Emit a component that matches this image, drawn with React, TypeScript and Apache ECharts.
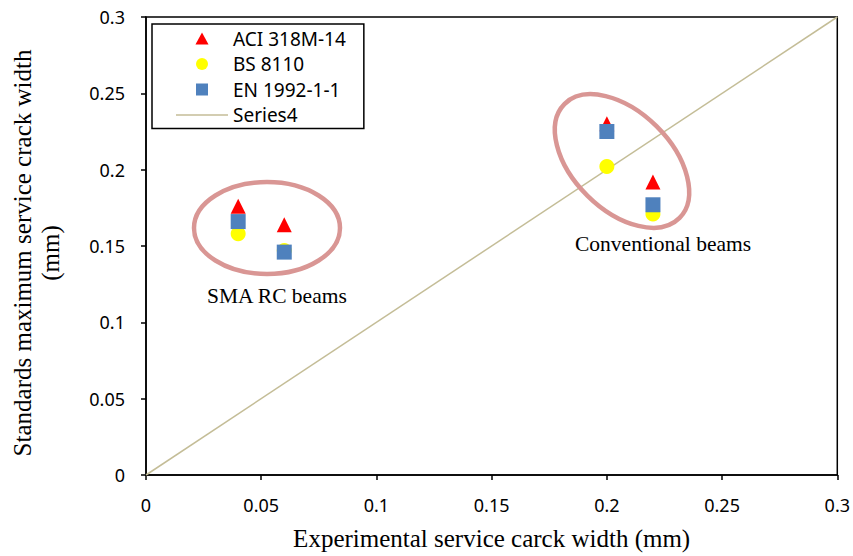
import React, { useEffect, useRef } from "react";
import * as echarts from "echarts";

const experimental = [0.04, 0.06, 0.2, 0.22];
const aciValues = [0.176, 0.164, 0.23, 0.192];
const bsValues = [0.158, 0.147, 0.202, 0.171];
const enValues = [0.166, 0.146, 0.225, 0.177];
const lineX = [0, 0.3];
const lineY = [0, 0.3];
const seriesNames = ["ACI 318M-14", "BS 8110", "EN 1992-1-1", "Series4"];
const annotations = ["SMA RC beams", "Conventional beams"];

const pairs = (xs: number[], ys: number[]) => xs.map((x, i) => [x, ys[i]]);

const legendIcons = [
  "path://M6,0L12,11L0,11Z",
  "path://M6,0A6,6,0,1,1,6,12A6,6,0,1,1,6,0Z",
  "path://M0,0H12V12H0Z",
  "path://M0,0H52V1.5H0Z",
];

export default function App() {
  const ref = useRef<HTMLDivElement>(null);
  useEffect(() => {
    if (!ref.current) return;
    const chart = echarts.init(ref.current, null, { renderer: "svg" });
    const tickFont = { fontFamily: "Noto Sans", fontSize: 18, color: "#000" };
    const serif = "Liberation Serif";
    chart.setOption({
      animation: false,
      backgroundColor: "#fff",
      grid: {
        left: 145,
        right: 15,
        top: 17,
        bottom: 79,
        show: true,
        borderColor: "#000",
        borderWidth: 1.5,
        backgroundColor: "transparent",
      },
      xAxis: {
        type: "value",
        min: 0,
        max: 0.3,
        interval: 0.05,
        splitLine: { show: false },
        axisLine: { lineStyle: { color: "#000", width: 1.5 } },
        axisTick: { show: true, length: 5, lineStyle: { color: "#000", width: 1.5 } },
        axisLabel: { ...tickFont, margin: 21 },
        name: "Experimental service carck width (mm)",
        nameLocation: "middle",
        nameGap: 51,
        nameTextStyle: { fontFamily: serif, fontSize: 25, color: "#000" },
      },
      yAxis: {
        type: "value",
        min: 0,
        max: 0.3,
        interval: 0.05,
        splitLine: { show: false },
        axisLine: { lineStyle: { color: "#000", width: 1.5 } },
        axisTick: { show: true, length: 5, lineStyle: { color: "#000", width: 1.5 } },
        axisLabel: { ...tickFont, margin: 21 },
        name: "Standards maximum service crack width\n(mm)",
        nameLocation: "middle",
        nameGap: 82,
        nameRotate: 90,
        nameTextStyle: {
          fontFamily: serif,
          fontSize: 25,
          color: "#000",
          lineHeight: 28,
          padding: [0, 14, 0, 0],
        },
      },
      legend: {
        left: 152,
        top: 24,
        orient: "vertical",
        data: seriesNames.map((name, i) => ({ name, icon: legendIcons[i] })),
        padding: [5, 18, 4, 24],
        itemWidth: 52,
        itemHeight: 12,
        itemGap: 6.5,
        symbolKeepAspect: true,
        borderColor: "#000",
        borderWidth: 1.5,
        backgroundColor: "#fff",
        textStyle: { fontFamily: "Noto Sans", fontSize: 19, color: "#000", lineHeight: 19 },
      },
      series: [
        {
          name: seriesNames[3],
          type: "line",
          data: pairs(lineX, lineY),
          symbol: "none",
          lineStyle: { color: "#C4BD97", width: 1.5 },
          itemStyle: { color: "#C4BD97" },
          z: 1,
        },
        {
          name: seriesNames[0],
          type: "scatter",
          data: pairs(experimental, aciValues),
          symbol: "triangle",
          symbolSize: 15,
          itemStyle: { color: "#FF0000", opacity: 1 },
          z: 2,
        },
        {
          name: seriesNames[1],
          type: "scatter",
          data: pairs(experimental, bsValues),
          symbol: "circle",
          symbolSize: 15,
          itemStyle: { color: "#FFFF00", opacity: 1 },
          z: 3,
        },
        {
          name: seriesNames[2],
          type: "scatter",
          data: pairs(experimental, enValues),
          symbol: "rect",
          symbolSize: 15,
          itemStyle: { color: "#4F81BD", opacity: 1 },
          z: 4,
        },
      ],
      graphic: [
        {
          type: "ellipse",
          x: 267,
          y: 228,
          shape: { cx: 0, cy: 0, rx: 73, ry: 46 },
          style: { fill: "none", stroke: "#D99694", lineWidth: 4.5 },
          z: 100,
        },
        {
          type: "ellipse",
          x: 622,
          y: 161,
          rotation: -0.78,
          shape: { cx: 0, cy: 0, rx: 81, ry: 49 },
          style: { fill: "none", stroke: "#D99694", lineWidth: 4.5 },
          z: 100,
        },
        {
          type: "text",
          left: 207,
          top: 285,
          style: { text: annotations[0], fontFamily: serif, fontSize: 21.5, fill: "#000" },
          z: 100,
        },
        {
          type: "text",
          left: 575,
          top: 233,
          style: { text: annotations[1], fontFamily: serif, fontSize: 21.5, fill: "#000" },
          z: 100,
        },
      ],
    });
    return () => chart.dispose();
  }, []);
  return (
    <div
      ref={ref}
      style={{ position: "absolute", left: 0, top: 0, width: 853, height: 556 }}
    />
  );
}
